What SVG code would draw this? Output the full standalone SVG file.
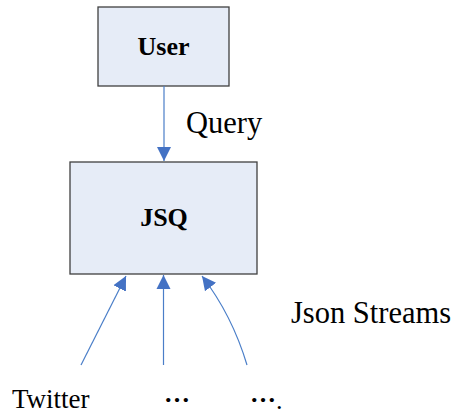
<svg xmlns="http://www.w3.org/2000/svg" width="456" height="414" viewBox="0 0 456 414">
  <style>
    .box { fill: #E6ECF7; stroke: #404040; stroke-width: 1.3; }
    .title { font-family: "Liberation Serif", "Times New Roman", serif; font-weight: bold; font-size: 26px; fill: #000; text-anchor: middle; }
    .label { font-family: "Liberation Serif", "Times New Roman", serif; font-size: 30.5px; fill: #000; }
    .src { font-family: "Liberation Serif", "Times New Roman", serif; font-size: 27px; fill: #000; }
    .dots { font-weight: bold; font-size: 26px; }
    .edge { fill: none; stroke: #4A7EC8; stroke-width: 1.2; }
  </style>
  <defs>
    <marker id="head" markerUnits="userSpaceOnUse" markerWidth="16" markerHeight="16" viewBox="0 0 16 16" refX="14" refY="8" orient="auto">
      <path d="M0,1 L14,8 L0,15 Z" fill="#4472C4"/>
    </marker>
  </defs>

  <rect width="456" height="414" fill="#FFFFFF"/>

  <g id="user">
    <rect class="box" x="98" y="7" width="131" height="79"/>
    <text class="title" x="163.5" y="55">User</text>
  </g>

  <g id="jsq">
    <rect class="box" x="70" y="162" width="187" height="112"/>
    <text class="title" x="164" y="226">JSQ</text>
  </g>

  <g id="connectors">
    <line class="edge" x1="164" y1="86" x2="164" y2="161" marker-end="url(#head)"/>
    <line class="edge" x1="81" y1="365" x2="126" y2="276" marker-end="url(#head)"/>
    <line class="edge" x1="163.5" y1="365" x2="163.5" y2="275" marker-end="url(#head)"/>
    <path class="edge" d="M247,365 Q232,315 202,276" marker-end="url(#head)"/>
  </g>

  <g id="labels">
    <text class="label" x="186" y="133">Query</text>
    <text class="label" x="291" y="323">Json Streams</text>
    <text class="src" x="12" y="408">Twitter</text>
    <text class="src dots" x="177" y="402" text-anchor="middle">…</text>
    <text class="src dots" x="250" y="402">…<tspan dy="7" font-weight="normal">.</tspan></text>
  </g>
</svg>
